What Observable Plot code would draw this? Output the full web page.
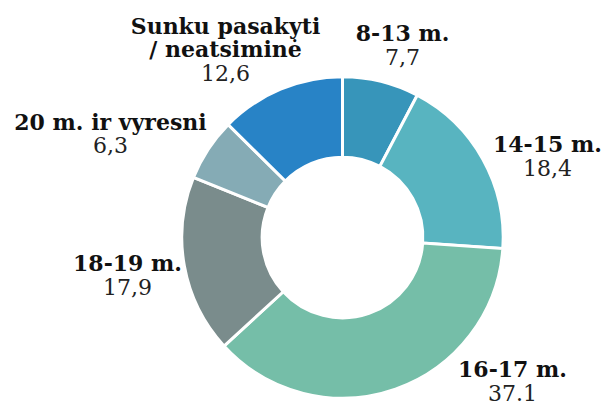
<!DOCTYPE html>
<html><head><meta charset="utf-8">
<script src="https://cdn.jsdelivr.net/npm/d3@7"></script>
<script src="https://cdn.jsdelivr.net/npm/@observablehq/plot@0.6"></script>
<style>body{margin:0;background:#fff}</style>
</head><body><div id="chart"></div>
<script>
// data
const categories = ["8-13 m.", "14-15 m.", "16-17 m.", "18-19 m.", "20 m. ir vyresni", "Sunku pasakyti\n/ neatsiminė"];
const values = [7.7, 18.4, 37.1, 17.9, 6.3, 12.6];
const valueLabels = ["7,7", "18,4", "37.1", "17,9", "6,3", "12,6"];
const colors = ["#3795ba", "#58b4c0", "#75bea8", "#7a8c8c", "#85abb5", "#2883c6"];
// label layout (polar: degrees clockwise from top, distance in outer-radius units)
const labelAngle = [16.85, 67.2, 129.4, 261.2, 294.95, 327.0];
const labelDist = [1.278, 1.380, 1.365, 1.357, 1.596, 1.342];

const rows = categories.map((c, i) => {
  const a = labelAngle[i] * Math.PI / 180;
  return {name: c, value: values[i], label: valueLabels[i], color: colors[i],
          lx: labelDist[i] * Math.sin(a), ly: labelDist[i] * Math.cos(a)};
});
const arcs = d3.pie().sort(null).value(d => d.value)(rows);

const W = 602, H = 401, CX = 342.5, CY = 237.5, RU = 160.7;
const font = "'DejaVu Serif', serif";
const FS = 22, LH = 23.6;

const donut = (index, scales) => {
  const cx = scales.x(0), cy = scales.y(0);
  const ro = Math.abs(scales.x(1) - cx);
  const arc = d3.arc().innerRadius(ro * 0.5).outerRadius(ro);
  const g = d3.create("svg:g").attr("transform", `translate(${cx},${cy})`);
  g.selectAll("path").data(arcs).join("path")
    .attr("d", arc).attr("fill", d => d.data.color)
    .attr("stroke", "#fff").attr("stroke-width", 3);
  return g.node();
};

const chart = Plot.plot({
  width: W, height: H, margin: 0,
  x: {domain: [-CX / RU, (W - CX) / RU], axis: null},
  y: {domain: [-(H - CY) / RU, CY / RU], axis: null},
  style: {fontFamily: font, background: "#fff"},
  marks: [
    donut,
    Plot.text(rows, {x: "lx", y: "ly", text: "name", lineAnchor: "bottom", lineHeight: LH / FS,
      fontSize: FS, fontWeight: "bold", fill: "#111", fontFamily: font}),
    Plot.text(rows, {x: "lx", y: "ly", text: "label", lineAnchor: "bottom", dy: LH,
      fontSize: FS, fill: "#222", fontFamily: font})
  ]
});
document.getElementById("chart").appendChild(chart);
</script>
</body></html>
